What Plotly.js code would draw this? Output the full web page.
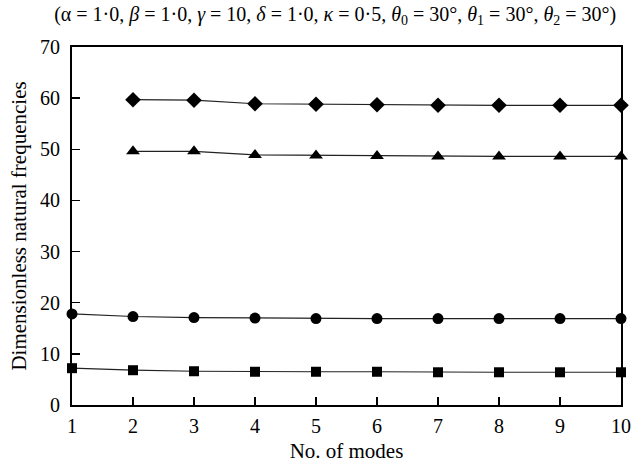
<!DOCTYPE html>
<html>
<head>
<meta charset="utf-8">
<script src="https://cdn.plot.ly/plotly-3.0.1.min.js"></script>
<style>
  html, body { margin: 0; padding: 0; background: #fff; }
  #chart { width: 636px; height: 465px; }
</style>
</head>
<body>
<div id="chart"></div>
<script>
// Number of modes used in the expansion
const modes = [1, 2, 3, 4, 5, 6, 7, 8, 9, 10];
const modesFrom2 = [2, 3, 4, 5, 6, 7, 8, 9, 10];

// Dimensionless natural frequencies for the first four modes
const freq1 = [7.2, 6.8, 6.6, 6.5, 6.5, 6.5, 6.4, 6.4, 6.4, 6.4];
const freq2 = [17.8, 17.3, 17.1, 17.0, 16.9, 16.9, 16.9, 16.9, 16.9, 16.9];
const freq3 = [49.6, 49.6, 48.9, 48.8, 48.7, 48.6, 48.6, 48.6, 48.6];
const freq4 = [59.7, 59.6, 58.9, 58.8, 58.7, 58.6, 58.6, 58.6, 58.6];

const xTicks = [1, 2, 3, 4, 5, 6, 7, 8, 9, 10];
const yTicks = [0, 10, 20, 30, 40, 50, 60, 70];

const serif = '"Liberation Serif", "Times New Roman", serif';

function series(x, y, symbol, size) {
  return {
    x: x, y: y, type: 'scatter', mode: 'lines+markers',
    line: { color: '#222', width: 1.2 },
    marker: { symbol: symbol, size: size, color: '#000' },
    cliponaxis: false, showlegend: false
  };
}

const data = [
  series(modes, freq1, 'square', 10),
  series(modes, freq2, 'circle', 11),
  series(modesFrom2, freq3, 'triangle-up', 12),
  series(modesFrom2, freq4, 'diamond', 12)
];

const axisCommon = {
  showline: true, linecolor: '#000', linewidth: 2, mirror: true,
  ticks: 'inside', ticklen: 8, tickwidth: 1.5, tickcolor: '#000',
  showgrid: false, zeroline: false,
  tickfont: { family: serif, size: 20, color: '#000' }
};

const layout = {
  width: 636, height: 465,
  margin: { l: 72, r: 15, t: 47, b: 60 },
  paper_bgcolor: '#fff', plot_bgcolor: '#fff',
  title: {
    text: '(α = 1·0, <i>β</i> = 1·0, <i>γ</i> = 10, <i>δ</i> = 1·0, <i>κ</i> = 0·5, <i>θ</i><sub>0</sub> = 30°, <i>θ</i><sub>1</sub> = 30°, <i>θ</i><sub>2</sub> = 30°)',
    font: { family: serif, size: 20, color: '#000' },
    x: 0.527, xanchor: 'center', y: 0.985, yanchor: 'top'
  },
  xaxis: Object.assign({}, axisCommon, {
    range: [1, 10], tickvals: xTicks, ticktext: xTicks.map(String),
    ticklabelstandoff: 2,
    title: { text: 'No. of modes', font: { family: serif, size: 21, color: '#000' }, standoff: 7 }
  }),
  yaxis: Object.assign({}, axisCommon, {
    range: [0, 70], tickvals: yTicks, ticktext: yTicks.map(String),
    ticklabelstandoff: 6,
    title: { text: 'Dimensionless natural frequencies', font: { family: serif, size: 21, color: '#000' }, standoff: 8 }
  })
};

Plotly.newPlot('chart', data, layout, { staticPlot: true, displayModeBar: false });
</script>
</body>
</html>
